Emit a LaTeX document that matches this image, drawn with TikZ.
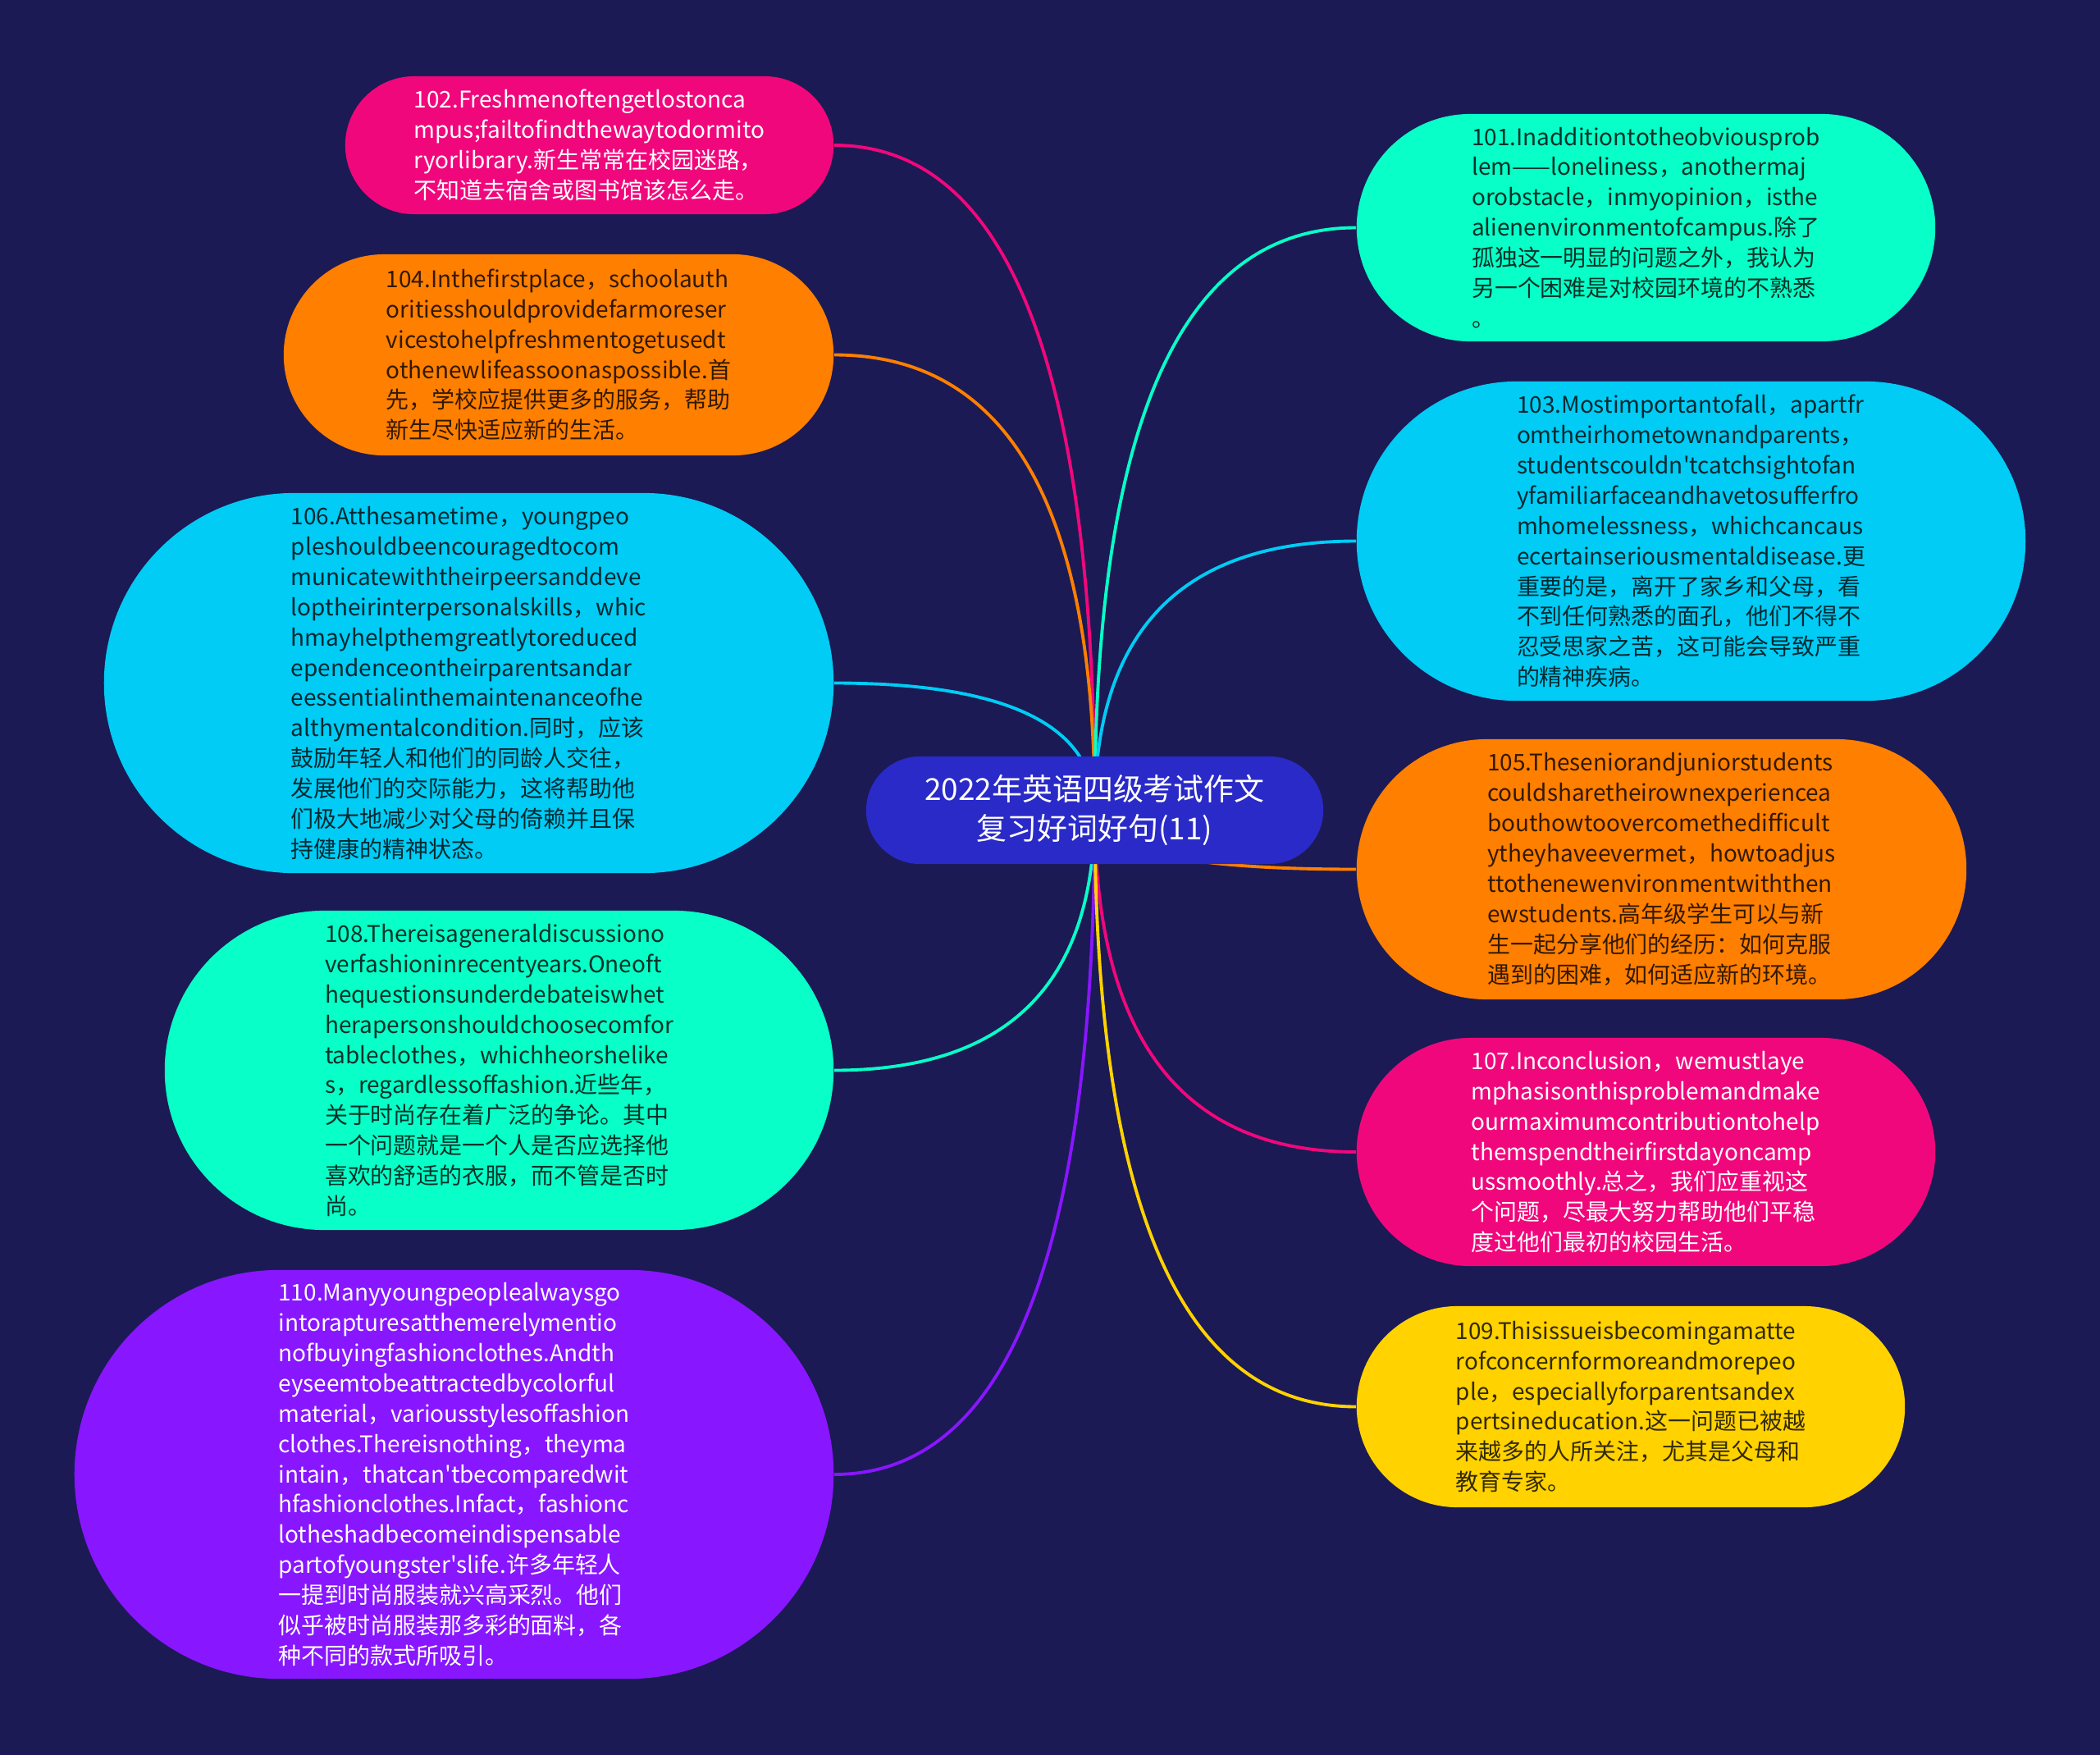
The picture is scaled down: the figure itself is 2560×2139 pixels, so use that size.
\documentclass[tikz,border=0pt]{standalone}
\usepackage{fontspec}
\newfontfamily\mmfont{Noto Sans CJK SC}
\usetikzlibrary{calc,shapes.misc,backgrounds}

\definecolor{bgnavy}{HTML}{1B1A54}
\definecolor{titleblue}{HTML}{2A2AC8}
\definecolor{mmpink}{HTML}{F1077C}
\definecolor{mmorange}{HTML}{FF7F00}
\definecolor{mmcyan}{HTML}{00CCF5}
\definecolor{mmgreen}{HTML}{08FFC8}
\definecolor{mmyellow}{HTML}{FFD200}
\definecolor{mmpurple}{HTML}{8816FF}

\newcommand\leaffont{\mmfont\fontsize{7.95}{10.5}\selectfont}
\newcommand\titlefont{\mmfont\fontsize{10.5}{13.4}\selectfont}

\begin{document}
\begin{tikzpicture}[x=0.01cm,y=-0.01cm,
  leaf/.style={rounded rectangle,inner sep=0pt,align=left,font=\leaffont,fill=#1,text=#1!20!black},
  lightleaf/.style={leaf=#1,text=white},
  title/.style={rounded rectangle,inner sep=0pt,align=center,font=\titlefont,fill=titleblue,text=white,
    minimum width=5.57cm,minimum height=1.31cm},
  link/.style={line width=1.1pt,draw=#1}]
  \useasboundingbox (0,0) rectangle (2560,2139);

  % central topic
  \node[title] (title) at (1334.5,987.5) {2022年英语四级考试作文\\复习好词好句(11)};

  % left side
  \node[lightleaf=mmpink,minimum width=5.95cm,minimum height=1.68cm] (n102) at (718.5,177)
    {102.Freshmenoftengetlostonca\\mpus;failtofindthewaytodormito\\ryorlibrary.新生常常在校园迷路，\\不知道去宿舍或图书馆该怎么走。};
  \node[leaf=mmorange,minimum width=6.70cm,minimum height=2.45cm] (n104) at (681,432.5)
    {104.Inthefirstplace，schoolauth\\oritiesshouldprovidefarmoreser\\vicestohelpfreshmentogetusedt\\othenewlifeassoonaspossible.首\\先，学校应提供更多的服务，帮助\\新生尽快适应新的生活。};
  \node[leaf=mmcyan,minimum width=8.89cm,minimum height=4.63cm] (n106) at (571.5,832.5)
    {106.Atthesametime，youngpeo\\pleshouldbeencouragedtocom\\municatewiththeirpeersanddeve\\loptheirinterpersonalskills，whic\\hmayhelpthemgreatlytoreduced\\ependenceontheirparentsandar\\eessentialinthemaintenanceofhe\\althymentalcondition.同时，应该\\鼓励年轻人和他们的同龄人交往，\\发展他们的交际能力，这将帮助他\\们极大地减少对父母的倚赖并且保\\持健康的精神状态。};
  \node[leaf=mmgreen,minimum width=8.15cm,minimum height=3.89cm] (n108) at (608.5,1304.5)
    {108.Thereisageneraldiscussiono\\verfashioninrecentyears.Oneoft\\hequestionsunderdebateiswhet\\herapersonshouldchoosecomfor\\tableclothes，whichheorshelike\\s，regardlessoffashion.近些年，\\关于时尚存在着广泛的争论。其中\\一个问题就是一个人是否应选择他\\喜欢的舒适的衣服，而不管是否时\\尚。};
  \node[lightleaf=mmpurple,minimum width=9.25cm,minimum height=4.98cm] (n110) at (553.5,1797)
    {110.Manyyoungpeoplealwaysgo\\intorapturesatthemerelymentio\\nofbuyingfashionclothes.Andth\\eyseemtobeattractedbycolorful\\material，variousstylesoffashion\\clothes.Thereisnothing，theyma\\intain，thatcan'tbecomparedwit\\hfashionclothes.Infact，fashionc\\lotheshadbecomeindispensable\\partofyoungster'slife.许多年轻人\\一提到时尚服装就兴高采烈。他们\\似乎被时尚服装那多彩的面料，各\\种不同的款式所吸引。};

  % right side
  \node[leaf=mmgreen,minimum width=7.05cm,minimum height=2.77cm] (n101) at (2006.5,277.5)
    {101.Inadditiontotheobviousprob\\lem——loneliness，anothermaj\\orobstacle，inmyopinion，isthe\\alienenvironmentofcampus.除了\\孤独这一明显的问题之外，我认为\\另一个困难是对校园环境的不熟悉\\。};
  \node[leaf=mmcyan,minimum width=8.15cm,minimum height=3.89cm] (n103) at (2061.5,659.5)
    {103.Mostimportantofall，apartfr\\omtheirhometownandparents，\\studentscouldn'tcatchsightofan\\yfamiliarfaceandhavetosufferfro\\mhomelessness，whichcancaus\\ecertainseriousmentaldisease.更\\重要的是，离开了家乡和父母，看\\不到任何熟悉的面孔，他们不得不\\忍受思家之苦，这可能会导致严重\\的精神疾病。};
  \node[leaf=mmorange,minimum width=7.43cm,minimum height=3.17cm] (n105) at (2025.5,1059.5)
    {105.Theseniorandjuniorstudents\\couldsharetheirownexperiencea\\bouthowtoovercomethedifficult\\ytheyhaveevermet，howtoadjus\\ttothenewenvironmentwiththen\\ewstudents.高年级学生可以与新\\生一起分享他们的经历：如何克服\\遇到的困难，如何适应新的环境。};
  \node[lightleaf=mmpink,minimum width=7.05cm,minimum height=2.78cm] (n107) at (2006.5,1404)
    {107.Inconclusion，wemustlaye\\mphasisonthisproblemandmake\\ourmaximumcontributiontohelp\\themspendtheirfirstdayoncamp\\ussmoothly.总之，我们应重视这\\个问题，尽最大努力帮助他们平稳\\度过他们最初的校园生活。};
  \node[leaf=mmyellow,minimum width=6.68cm,minimum height=2.45cm] (n109) at (1988,1714.5)
    {109.Thisissueisbecomingamatte\\rofconcernformoreandmorepeo\\ple，especiallyforparentsandex\\pertsineducation.这一问题已被越\\来越多的人所关注，尤其是父母和\\教育专家。};

  \begin{pgfonlayer}{background}
    \fill[bgnavy] (0,0) rectangle (2560,2139);
    \foreach \n/\a/\c in {n102/east/mmpink,n104/east/mmorange,n106/east/mmcyan,n108/east/mmgreen,n110/east/mmpurple,
                          n101/west/mmgreen,n103/west/mmcyan,n105/west/mmorange,n107/west/mmpink,n109/west/mmyellow}
      \draw[link=\c] (title.center) .. controls ($(title.center)!2/3!(title.center |- \n.\a)$)
        and ($(\n.\a)!2/3!(title.center |- \n.\a)$) .. (\n.\a);
  \end{pgfonlayer}
\end{tikzpicture}
\end{document}
